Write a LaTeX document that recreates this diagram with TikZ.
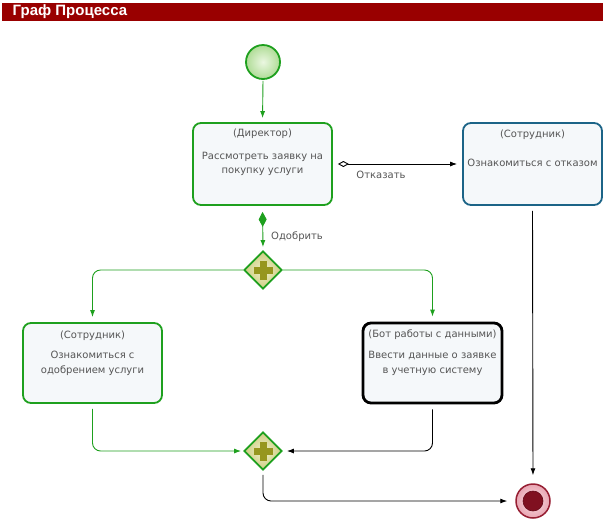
\documentclass[tikz,border=0pt]{standalone}
\usepackage{fontspec}
\setmainfont{DejaVu Sans}
\newfontfamily\titlefont{Liberation Sans}
\usetikzlibrary{arrows.meta,shapes.geometric}
\definecolor{gr}{RGB}{30,160,30}
\definecolor{tf}{RGB}{245,248,250}
\definecolor{tg}{RGB}{85,85,85}
\definecolor{blu}{RGB}{28,100,135}
\definecolor{barred}{RGB}{153,0,0}
\definecolor{endc}{RGB}{128,16,32}
\definecolor{endring}{RGB}{150,30,50}
\definecolor{plusc}{RGB}{150,150,30}
\begin{document}
\begin{tikzpicture}[x=1pt,y=-1pt,
  task/.style={draw, rounded corners=8pt, line width=1.8pt, fill=tf, minimum width=139pt, minimum height=82pt, inner sep=0pt},
  txt/.style={text=tg, font=\fontsize{10}{14.5}\selectfont, align=center, inner sep=0pt},
  flow/.style={line width=0.9pt, -{Latex[length=7pt,width=5pt]}},
  gw/.style={diamond, aspect=1, draw=gr, line width=1.8pt, inner color={rgb,255:red,240;green,240;blue,200}, outer color={rgb,255:red,205;green,205;blue,130}, minimum width=38pt, minimum height=38pt, inner sep=0pt},
  plusarm/.style={fill=plusc}
]
\useasboundingbox (0,0) rectangle (605,523);
% title bar
\node[fill=barred, minimum width=601pt, minimum height=18pt, inner sep=0pt, anchor=north west] (bar) at (2,3) {};
\node[text=white, font=\titlefont\bfseries\fontsize{15}{16}\selectfont, anchor=west, inner sep=0pt] (title) at (12.5,12) {Граф Процесса};

% start event
\node[circle, draw=gr, line width=1.8pt, minimum size=34pt, inner sep=0pt, inner color={rgb,255:red,235;green,247;blue,225}, outer color={rgb,255:red,175;green,220;blue,150}] (start) at (263,62) {};

% director task
\node[task, draw=gr] (dir) at (262.5,164) {};
\node[txt] (dirh) at (262.5,134) {(Директор)};
\node[txt] (dirb) at (262.5,164) {Рассмотреть заявку на\\покупку услуги};

% refusal task
\node[task, draw=blu] (ref) at (532.5,164) {};
\node[txt] (refh) at (532.5,135) {(Сотрудник)};
\node[txt] (refb) at (532.5,163) {Ознакомиться с отказом};

% approval task
\node[task, draw=gr, minimum height=80pt] (app) at (92.5,363) {};
\node[txt] (apph) at (92.5,336) {(Сотрудник)};
\node[txt] (appb) at (92.5,363.5) {Ознакомиться с\\одобрением услуги};

% bot task
\node[task, draw=black, line width=2.8pt, minimum height=80pt] (bot) at (432.5,363) {};
\node[txt] (both) at (432.5,335) {(Бот работы с данными)};
\node[txt] (botb) at (432.5,363.5) {Ввести данные о заявке\\в учетную систему};

% gateways
\node[gw] (g1) at (263,270) {};
\fill[plusarm] ([xshift=-9.5pt,yshift=-3.5pt]g1.center) rectangle ([xshift=9.5pt,yshift=3.5pt]g1.center);
\fill[plusarm] ([xshift=-3.5pt,yshift=-9.5pt]g1.center) rectangle ([xshift=3.5pt,yshift=9.5pt]g1.center);
\node[gw] (g2) at (263,451) {};
\fill[plusarm] ([xshift=-9.5pt,yshift=-3.5pt]g2.center) rectangle ([xshift=9.5pt,yshift=3.5pt]g2.center);
\fill[plusarm] ([xshift=-3.5pt,yshift=-9.5pt]g2.center) rectangle ([xshift=3.5pt,yshift=9.5pt]g2.center);

% end event
\node[circle, draw=endring, line width=1.5pt, minimum size=34pt, inner sep=0pt, inner color={rgb,255:red,252;green,225;blue,230}, outer color={rgb,255:red,232;green,165;blue,178}] (end) at (533,501) {};
\node[circle, fill=endc, draw={rgb,255:red,100;green,10;blue,25}, line width=0.6pt, minimum size=20pt, inner sep=0pt] (endin) at (end.center) {};

% connectors
\draw[flow, draw=gr, shorten <=1pt, shorten >=4pt] (start.south) -- (dir.north);
\draw[line width=0.9pt, draw=gr, {Diamond[length=15pt,width=8pt]}-{Latex[length=7pt,width=5pt]}, shorten <=6pt, shorten >=3pt] (dir.south) -- (g1.north);
\node[text=tg, font=\fontsize{10}{12}\selectfont, anchor=west, inner sep=0pt] (lapp) at (271,237) {Одобрить};
\draw[line width=0.9pt, {Diamond[open,length=11pt,width=6pt]}-{Latex[length=7pt,width=5pt]}, shorten <=5pt, shorten >=5pt] (dir.east) -- (ref.west);
\node[text=tg, font=\fontsize{10}{12}\selectfont, inner sep=0pt] (lref) at (381,175) {Отказать};

\draw[flow, draw=gr, rounded corners=8pt, shorten >=5pt] (g1.west) -| (app.north);
\draw[flow, draw=gr, rounded corners=8pt, shorten >=5pt] (g1.east) -| (bot.north);
\draw[flow, draw=gr, rounded corners=8pt, shorten <=5pt, shorten >=2pt] (app.south) |- (g2.west);
\draw[flow, rounded corners=8pt, shorten <=5pt, shorten >=4pt] (bot.south) |- (g2.east);
\draw[flow, rounded corners=8pt, shorten <=4pt, shorten >=8pt] (g2.south) |- (end.west);
\draw[flow, shorten <=5pt, shorten >=8pt] (ref.south) -- (end.north);
\end{tikzpicture}
\end{document}
